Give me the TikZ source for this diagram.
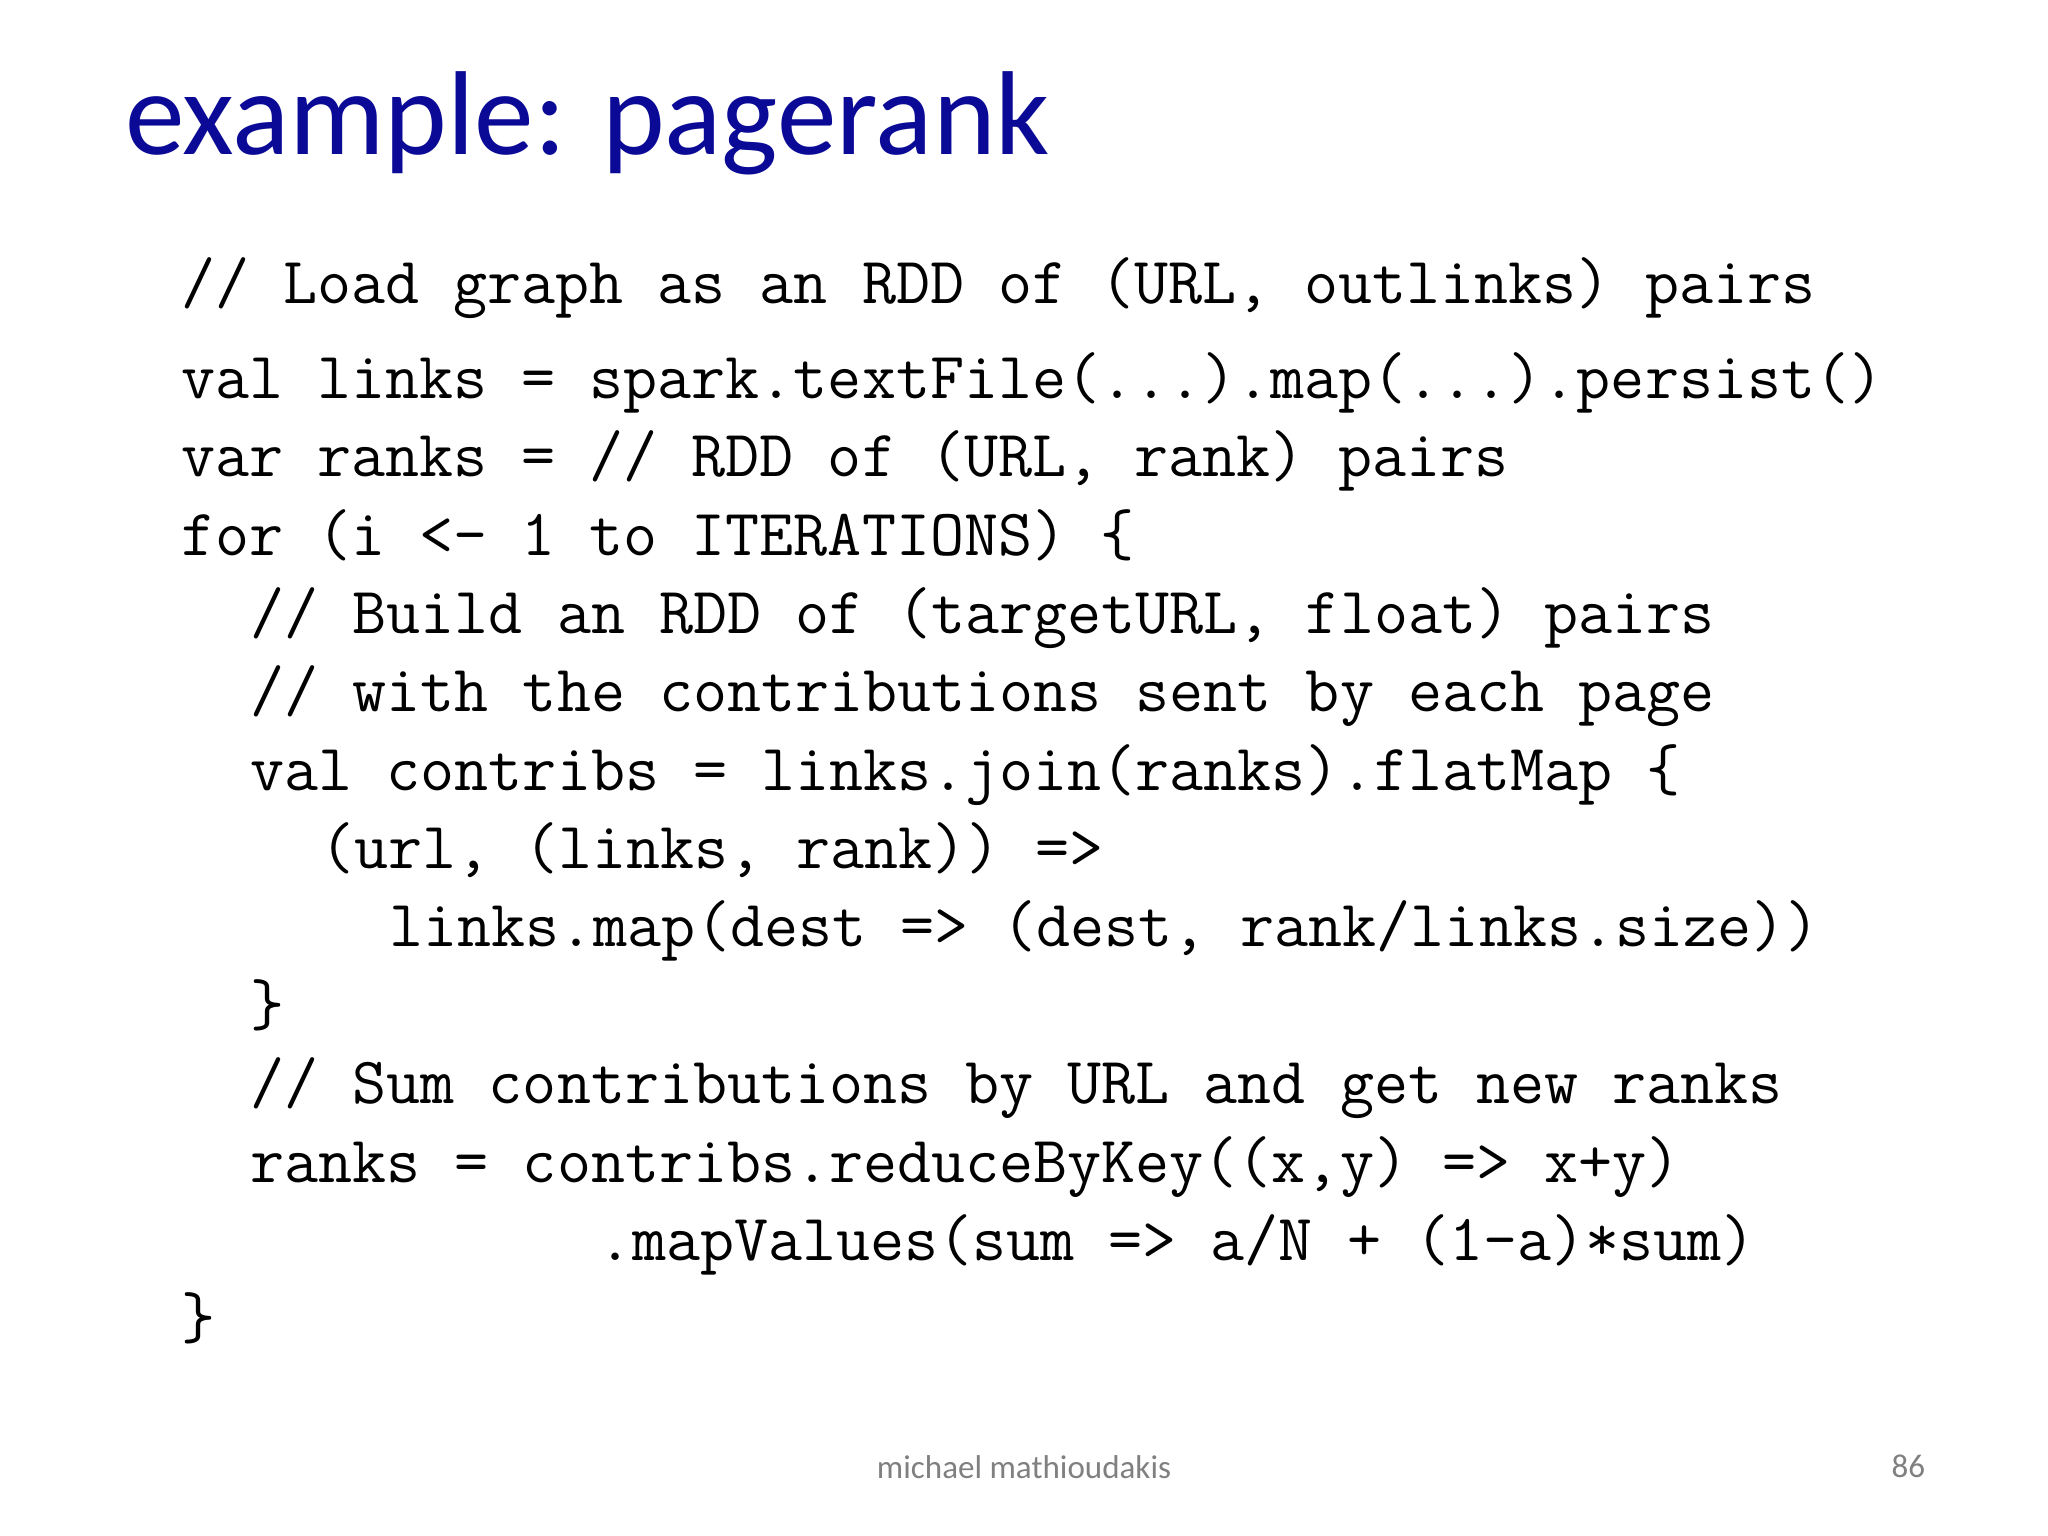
\documentclass[tikz,border=0pt]{standalone}
\usepackage{fontspec}
\newfontfamily\calfont{Carlito}
\definecolor{titleblue}{RGB}{10,10,150}
\begin{document}
\begin{tikzpicture}[x=1cm,y=1cm,
  code/.style={anchor=base west,inner sep=0pt,font=\fontsize{14.4pt}{16pt}\ttfamily}]
\useasboundingbox (0,0) rectangle (15.68,-11.76);
\node[anchor=base west,inner sep=0pt,text=titleblue,font=\calfont\fontsize{26pt}{30pt}\selectfont] (title) at (0.95,-1.18) {example: pagerank};
\node[code] (l1) at (1.38,-2.32) {// Load graph as an RDD of (URL, outlinks) pairs};
\node[code] (l2) at (1.38,-3.05) {val links = spark.textFile(...).map(...).persist()};
\node[code] (l3) at (1.38,-3.65) {var ranks = // RDD of (URL, rank) pairs};
\node[code] (l4) at (1.38,-4.25) {for (i <- 1 to ITERATIONS) \{};
\node[code] (l5) at (1.912,-4.85) {// Build an RDD of (targetURL, float) pairs};
\node[code] (l6) at (1.912,-5.45) {// with the contributions sent by each page};
\node[code] (l7) at (1.912,-6.05) {val contribs = links.join(ranks).flatMap \{};
\node[code] (l8) at (2.444,-6.65) {(url, (links, rank)) =>};
\node[code] (l9) at (2.976,-7.25) {links.map(dest => (dest, rank/links.size))};
\node[code] (l10) at (1.912,-7.85) {\}};
\node[code] (l11) at (1.912,-8.45) {// Sum contributions by URL and get new ranks};
\node[code] (l12) at (1.912,-9.05) {ranks = contribs.reduceByKey((x,y) => x+y)};
\node[code] (l13) at (4.572,-9.65) {.mapValues(sum => a/N + (1-a)*sum)};
\node[code] (l14) at (1.38,-10.25) {\}};
\node[inner sep=0pt,text=gray,font=\calfont\fontsize{7.2pt}{9pt}\selectfont] (foot) at (7.84,-11.23) {michael mathioudakis};
\node[inner sep=0pt,text=gray,font=\calfont\fontsize{7.2pt}{9pt}\selectfont] (num) at (14.61,-11.23) {86};
\end{tikzpicture}
\end{document}
